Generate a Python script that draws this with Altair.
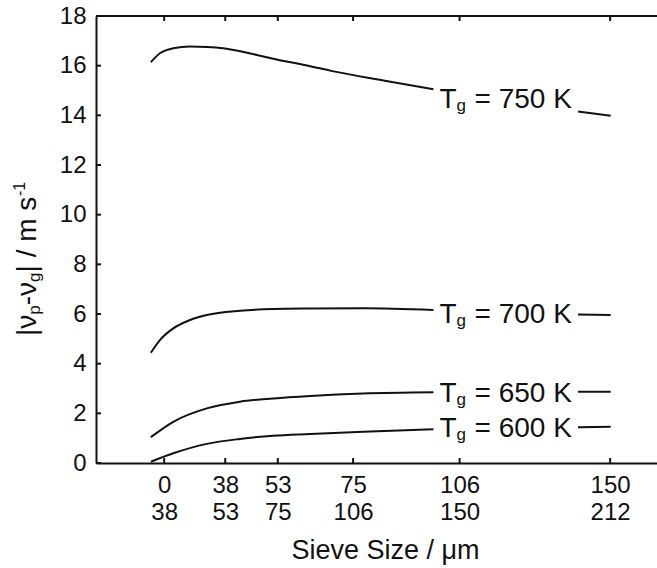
import altair as alt
import pandas as pd

FONT = "Liberation Sans, Arial, Helvetica, sans-serif"

# ---- data (x: sieve size position in µm, y: |vp - vg| in m/s) ----
temps = ["750", "700", "650", "600"]

x_750 = [19.3, 22.5, 27.2, 33.1, 39.0, 44.8, 56.6, 63.6, 75.4, 82.4, 101.2, 118.8]
y_750 = [16.14, 16.50, 16.70, 16.77, 16.75, 16.70, 16.43, 16.25, 15.98, 15.80, 15.40, 15.05]
x_750_end = [169.7, 181.2]
y_750_end = [14.15, 13.98]

x_700 = [19.3, 22.5, 27.2, 33.1, 39.0, 50.7, 62.4, 75.4, 94.1, 118.8]
y_700 = [4.44, 4.95, 5.42, 5.76, 5.96, 6.13, 6.20, 6.22, 6.23, 6.16]
x_700_end = [169.7, 181.2]
y_700_end = [5.98, 5.96]

x_650 = [19.3, 27.2, 39.0, 50.7, 62.4, 75.4, 94.1, 118.8]
y_650 = [1.04, 1.66, 2.20, 2.47, 2.60, 2.70, 2.80, 2.85]
x_650_end = [169.7, 181.2]
y_650_end = [2.87, 2.87]

x_600 = [19.3, 27.2, 39.0, 50.7, 62.4, 75.4, 94.1, 118.8]
y_600 = [0.05, 0.39, 0.77, 0.97, 1.10, 1.17, 1.26, 1.36]
x_600_end = [169.7, 181.2]
y_600_end = [1.44, 1.46]

# x tick positions and their two-line labels (sieve fractions)
tick_pos = [24, 45.5, 64, 90.5, 128, 181]
tick_lo = ["0", "38", "53", "75", "106", "150"]
tick_hi = ["38", "53", "75", "106", "150", "212"]
y_ticks = [0, 2, 4, 6, 8, 10, 12, 14, 16, 18]

# curve labels (anchor in data coordinates)
label_x = [120.95, 120.95, 120.95, 120.95]
label_y = [14.28, 5.64, 2.47, 1.06]

# y-axis title pieces
ytitle_parts = ["|ν", "p", "-ν", "g", "| / m s", "-1"]

# ---- build tables ----
series = {
    "750": (x_750, y_750, x_750_end, y_750_end),
    "700": (x_700, y_700, x_700_end, y_700_end),
    "650": (x_650, y_650, x_650_end, y_650_end),
    "600": (x_600, y_600, x_600_end, y_600_end),
}
rows = []
for t, (xa, ya, xb, yb) in series.items():
    for xv, yv in zip(xa, ya):
        rows.append({"x": xv, "y": yv, "seg": t + "a"})
    for xv, yv in zip(xb, yb):
        rows.append({"x": xv, "y": yv, "seg": t + "b"})
curves = pd.DataFrame(rows)

labels = pd.DataFrame({
    "x": label_x,
    "y": label_y,
    "rest": ["= %s K" % t for t in temps],
})

xt = pd.DataFrame({"x": tick_pos})
yt = pd.DataFrame({"y": y_ticks})
one = pd.DataFrame({"k": [0]})

label_expr = ""
for p, lo, hi in zip(tick_pos, tick_lo, tick_hi):
    label_expr += "datum.value == %s ? ['%s', '%s'] : " % (p, lo, hi)
label_expr += "''"

XMAX = 197.5
BLACK = "#111111"
xscale = alt.Scale(domain=[0, XMAX], nice=False, zero=False)
yscale = alt.Scale(domain=[0, 18], nice=False)

X_AXIS = alt.Axis(values=tick_pos, labelExpr=label_expr, title="Sieve Size / μm",
                  grid=False, ticks=False, tickSize=0, labelPadding=10,
                  labelFontSize=24, labelLineHeight=27, labelFlush=False,
                  labelOverlap=False, titleFontSize=27, titleFontWeight="normal",
                  titleX=289, titleY=95, titleBaseline="alphabetic",
                  domainWidth=2, domainColor=BLACK)
Y_AXIS = alt.Axis(values=y_ticks, title=None, grid=False, ticks=False, tickSize=0,
                  labelPadding=10, labelFontSize=24, labelFlush=False,
                  labelOverlap=False, domainWidth=2, domainColor=BLACK)


def X(field):
    return alt.X(field, type="quantitative", scale=xscale, axis=X_AXIS)


def Y(field):
    return alt.Y(field, type="quantitative", scale=yscale, axis=Y_AXIS)


lines = alt.Chart(curves).mark_line(color=BLACK, strokeWidth=2, interpolate="monotone").encode(
    x=X("x"), y=Y("y"), detail="seg:N",
)

top_border = alt.Chart(one).transform_calculate(yy="18").mark_rule(
    color=BLACK, strokeWidth=2).encode(y=Y("yy"))

bottom_ticks = alt.Chart(xt).transform_calculate(a="0", b="0.2").mark_rule(
    color=BLACK, strokeWidth=2).encode(x=X("x"), y=Y("a"), y2="b:Q")
top_ticks = alt.Chart(xt).transform_calculate(a="18", b="17.8").mark_rule(
    color=BLACK, strokeWidth=2).encode(x=X("x"), y=Y("a"), y2="b:Q")
left_ticks = alt.Chart(yt).transform_calculate(a="0", b="1.76").mark_rule(
    color=BLACK, strokeWidth=2).encode(y=Y("y"), x=X("a"), x2="b:Q")

base_lab = alt.Chart(labels).encode(x=X("x"), y=Y("y"))
lab_T = base_lab.mark_text(text="T", font=FONT, fontSize=28, align="left",
                           baseline="alphabetic", color=BLACK)
lab_g = base_lab.mark_text(text="g", font=FONT, fontSize=17, align="left",
                           baseline="alphabetic", dx=17, dy=3, color=BLACK)
lab_rest = base_lab.mark_text(font=FONT, fontSize=28, align="left",
                              baseline="alphabetic", dx=35, color=BLACK).encode(text="rest:N")

# y title assembled from pieces (rotated, reading upward)
sizes = [28, 17, 28, 17, 28, 16]
offs = [0, 21.3, 30.8, 54.1, 63.6, 140.0]
dys = [0, 4, 0, 4, 0, -11]
ytitle_layers = []
for txt, fs, o, d in zip(ytitle_parts, sizes, offs, dys):
    ytitle_layers.append(
        alt.Chart(one).mark_text(text=txt, font=FONT, fontSize=fs, angle=270, align="left",
                                 baseline="alphabetic", dx=o, dy=d, color=BLACK)
        .encode(x=alt.value(-60), y=alt.value(320))
    )

chart = alt.layer(
    lines, top_border, bottom_ticks, top_ticks, left_ticks, lab_T, lab_g, lab_rest,
    *ytitle_layers
).properties(
    width=561, height=447,
    padding={"left": 96, "top": 16, "right": 0, "bottom": 105},
    autosize=alt.AutoSizeParams(type="none"),
    background="white",
).configure_view(stroke=None).configure_axis(
    labelFont=FONT, titleFont=FONT, labelColor=BLACK, titleColor=BLACK,
)

chart.save("out.html", embed_options={"renderer": "svg", "actions": False})
